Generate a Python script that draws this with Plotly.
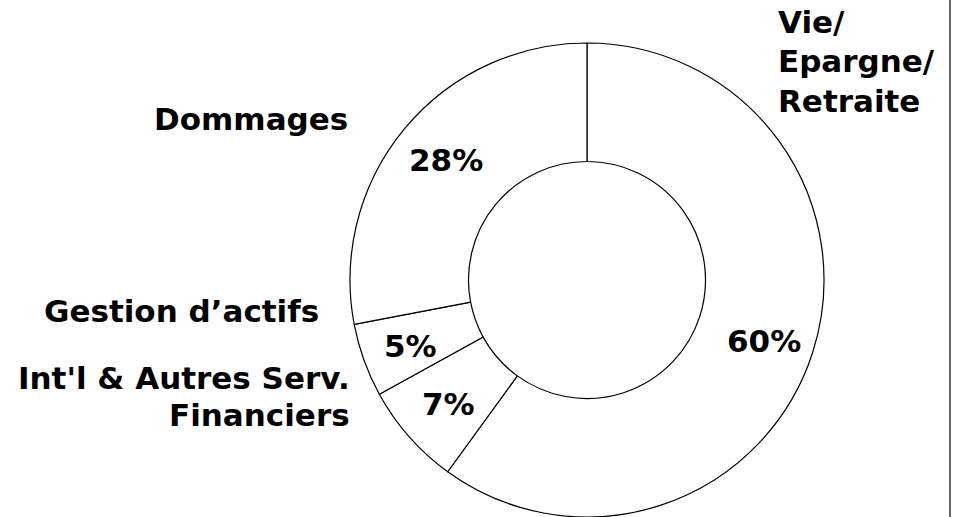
import plotly.graph_objects as go

# Business lines, clockwise from 12 o'clock
categories = ["Vie/<br>Epargne/<br>Retraite", "Int'l & Autres Serv.<br>Financiers",
              "Gestion d\u2019actifs", "Dommages"]
shares = [60, 7, 5, 28]

W, H = 959, 517
FONT = dict(family="DejaVu Sans, Arial, sans-serif", size=31, color="black", weight="bold")


def px(x, y):
    """Pixel position -> paper coordinates."""
    return x / W, 1 - y / H


# Ring geometry (pixels)
cx, cy, r = 587, 280, 237

fig = go.Figure(go.Pie(
    labels=[c.replace("<br>", " ") for c in categories],
    values=shares,
    sort=False,
    direction="clockwise",
    rotation=0,
    hole=0.5,
    textinfo="none",
    hoverinfo="label+percent",
    marker=dict(colors=["white"] * len(shares), line=dict(color="black", width=1.2)),
    domain=dict(x=[(cx - r) / W, (cx + r) / W], y=[1 - (cy + r) / H, 1 - (cy - r) / H]),
    showlegend=False,
))

annotations = []


def add_text(text, x, y, anchor):
    ax, ay = px(x, y)
    annotations.append(dict(text=text, x=ax, y=ay, xref="paper", yref="paper",
                            xanchor=anchor, yanchor="middle", showarrow=False, font=FONT))


# Category labels, one annotation per line
label_lines = {
    0: ([776, 776, 776], [22, 61, 101], "left"),
    1: ([352, 352], [378, 415], "right"),
    2: ([321], [311], "right"),
    3: ([350], [119], "right"),
}
for i, (xs, ys, anchor) in label_lines.items():
    for line, x, y in zip(categories[i].split("<br>"), xs, ys):
        add_text(line, x, y, anchor)

# Percentage labels inside the ring
pct_pos = [(764, 341), (448, 404), (410, 346), (446, 160)]
for v, (x, y) in zip(shares, pct_pos):
    add_text(f"{v}%", x, y, "center")

fig.update_layout(
    width=W, height=H,
    margin=dict(l=0, r=0, t=0, b=0),
    paper_bgcolor="white",
    plot_bgcolor="white",
    annotations=annotations,
    shapes=[dict(type="line", xref="paper", yref="paper",
                 x0=950 / W, x1=950 / W, y0=0, y1=1,
                 line=dict(color="black", width=1.2))],
)

fig.write_html("out.html")
